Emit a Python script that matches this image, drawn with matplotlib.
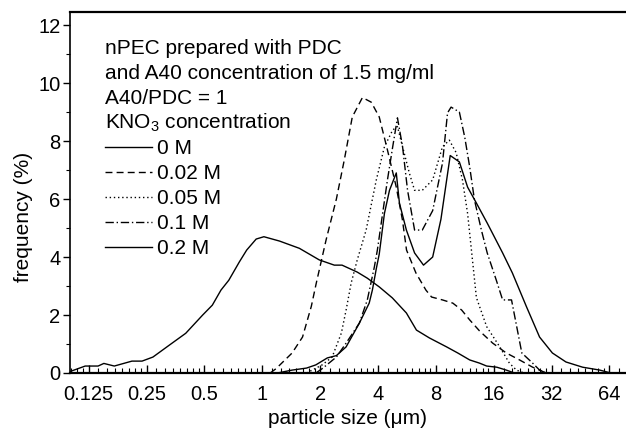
import matplotlib
matplotlib.use("Agg")
import matplotlib.pyplot as plt
from matplotlib.ticker import FixedLocator, FixedFormatter, NullFormatter
import numpy as np

plt.rcParams['font.family'] = ['Liberation Sans', 'DejaVu Sans']
plt.rcParams['mathtext.fontset'] = 'custom'
plt.rcParams['mathtext.rm'] = 'Liberation Sans'
plt.rcParams['mathtext.it'] = 'Liberation Sans'

# particle size (um) and frequency (%)
size_0M = [1.2, 1.43, 1.7, 1.9, 2.18, 2.43, 2.73, 3.2, 3.6, 3.74, 3.92, 4.06, 4.32, 4.59,
           4.98, 5.17, 5.62, 6.2, 6.9, 7.7, 8.5, 9.5, 10.6, 11.7, 13.0, 14.8, 17.8,
           20.0, 23.7, 27.7, 32.3, 38.0, 46.4, 57.0, 65.0]
freq_0M = [0.0, 0.1, 0.17, 0.28, 0.52, 0.6, 0.9, 1.72, 2.41, 2.86, 3.6, 4.1, 5.5, 6.3,
           6.9, 5.86, 4.93, 4.14, 3.72, 4.0, 5.3, 7.5, 7.28, 6.41, 5.86, 5.17, 4.14,
           3.45, 2.28, 1.24, 0.69, 0.38, 0.2, 0.1, 0.0]

size_002M = [1.1, 1.18, 1.43, 1.62, 1.8, 1.91, 2.15, 2.43, 2.67, 2.94, 3.32, 3.69, 4.06,
             4.48, 4.98, 5.36, 5.63, 6.3, 7.1, 7.6, 8.66, 9.8, 10.9, 12.0, 13.5, 15.8,
             18.6, 21.8, 25.5, 27.7, 30.0]
freq_002M = [0.0, 0.15, 0.69, 1.24, 2.3, 3.1, 4.6, 6.0, 7.34, 8.83, 9.5, 9.34, 8.83,
             7.69, 6.41, 5.28, 4.24, 3.45, 2.86, 2.62, 2.52, 2.41, 2.17, 1.83, 1.45, 1.03,
             0.69, 0.45, 0.2, 0.1, 0.0]

size_005M = [1.7, 1.82, 2.05, 2.31, 2.58, 2.73, 2.9, 3.12, 3.47, 3.92, 4.32, 4.77, 5.05,
             5.37, 5.82, 6.2, 6.8, 7.7, 8.66, 9.4, 10.2, 11.0, 11.7, 12.4, 13.0, 14.7,
             17.2, 19.3, 21.0, 23.0]
freq_005M = [0.0, 0.1, 0.28, 0.55, 1.38, 2.17, 3.1, 3.9, 4.93, 6.66, 7.8, 8.38, 8.5,
             7.8, 6.9, 6.3, 6.3, 6.66, 7.8, 8.03, 7.6, 6.66, 5.5, 3.9, 2.6, 1.6,
             0.9, 0.34, 0.1, 0.0]

size_01M = [1.9, 2.05, 2.43, 2.73, 3.2, 3.52, 3.83, 3.97, 4.48, 4.77, 5.05, 5.37, 5.7,
            6.2, 6.8, 7.7, 8.66, 9.2, 9.6, 10.6, 11.3, 12.0, 12.7, 13.8, 14.8, 16.5,
            17.8, 19.8, 22.4, 25.5, 27.7, 30.0]
freq_01M = [0.0, 0.15, 0.55, 1.03, 1.72, 2.52, 3.66, 4.24, 6.66, 7.8, 8.8, 7.8, 6.3,
            4.93, 4.93, 5.6, 7.24, 8.97, 9.17, 9.0, 8.14, 7.1, 5.97, 4.93, 4.14, 3.2,
            2.52, 2.52, 0.69, 0.34, 0.1, 0.0]

size_02M = [0.1, 0.12, 0.14, 0.15, 0.17, 0.21, 0.237, 0.27, 0.33, 0.40, 0.49, 0.55, 0.61,
            0.67, 0.76, 0.83, 0.93, 1.02, 1.23, 1.56, 1.98, 2.37, 2.6, 3.12, 3.52, 4.06,
            4.75, 5.62, 6.34, 7.4, 9.1, 10.4, 12.0, 13.5, 14.7, 16.6, 18.6, 20.5]
freq_02M = [0.05, 0.24, 0.24, 0.33, 0.24, 0.41, 0.41, 0.55, 0.97, 1.37, 2.0, 2.34, 2.86,
            3.2, 3.83, 4.24, 4.62, 4.7, 4.55, 4.3, 3.9, 3.72, 3.72, 3.48, 3.27, 2.97,
            2.59, 2.07, 1.48, 1.21, 0.9, 0.69, 0.45, 0.34, 0.24, 0.2, 0.1, 0.0]

major_ticks = [0.125, 0.25, 0.5, 1, 2, 4, 8, 16, 32, 64]
major_labels = ['0.125', '0.25', '0.5', '1', '2', '4', '8', '16', '32', '64']

fig = plt.figure(figsize=(6.26, 4.34), dpi=100)
ax = fig.add_axes([70 / 626, 61 / 434, 556 / 626, 361 / 434])

lw = 1.0
l1, = ax.plot(size_0M, freq_0M, color='black', lw=lw, ls='-', label='0 M')
l2, = ax.plot(size_002M, freq_002M, color='black', lw=lw, ls=(0, (5, 3)), label='0.02 M')
l3, = ax.plot(size_005M, freq_005M, color='black', lw=lw, ls=(0, (1, 2)), label='0.05 M')
l4, = ax.plot(size_01M, freq_01M, color='black', lw=lw, ls=(0, (6, 2, 1, 2)), label='0.1 M')
l5, = ax.plot(size_02M, freq_02M, color='black', lw=lw, ls='-', label='0.2 M')

ax.set_xscale('log', base=2)
ax.set_xlim(0.1, 78)
ax.set_ylim(0, 12.45)

minor = []
for k in range(-4, 7):
    for j in range(1, 8):
        minor.append(2.0 ** k * (1 + j / 8))
ax.xaxis.set_major_locator(FixedLocator(major_ticks))
ax.xaxis.set_major_formatter(FixedFormatter(major_labels))
ax.xaxis.set_minor_locator(FixedLocator(minor))
ax.xaxis.set_minor_formatter(NullFormatter())
ax.set_yticks(range(0, 13, 2))
ax.set_yticks(range(1, 13, 2), minor=True)

ax.tick_params(axis='x', which='major', direction='in', length=6, width=1.0, labelsize=14.5, pad=9)
ax.tick_params(axis='x', which='minor', direction='in', length=3.5, width=0.8)
ax.tick_params(axis='y', which='major', direction='out', length=5, width=1.0, labelsize=14.5, pad=2)
ax.tick_params(axis='y', which='minor', direction='out', length=3, width=0.8)

ax.spines['right'].set_visible(False)
ax.spines['top'].set_linewidth(1.6)
ax.spines['left'].set_linewidth(1.2)
ax.spines['bottom'].set_linewidth(1.6)

ax.set_xlabel('particle size (\u03bcm)', fontsize=15)
ax.set_ylabel('frequency (%)', fontsize=15)
ax.xaxis.set_label_coords(0.5, -0.099)
ax.yaxis.set_label_coords(-0.066, 0.432)

header = ['nPEC prepared with PDC',
          'and A40 concentration of 1.5 mg/ml',
          'A40/PDC = 1',
          'KNO$_3$ concentration']
for i, s in enumerate(header):
    ax.text(0.063, 0.898 - i * 0.0685, s, transform=ax.transAxes, fontsize=15,
            va='center', ha='left')

ax.legend(handles=[l1, l2, l3, l4, l5], loc='upper left', bbox_to_anchor=(0.063, 0.648),
          frameon=False, fontsize=15, borderpad=0, borderaxespad=0,
          handlelength=2.26, handletextpad=0.25, labelspacing=0.29)

fig.savefig('out.png', dpi=100)
